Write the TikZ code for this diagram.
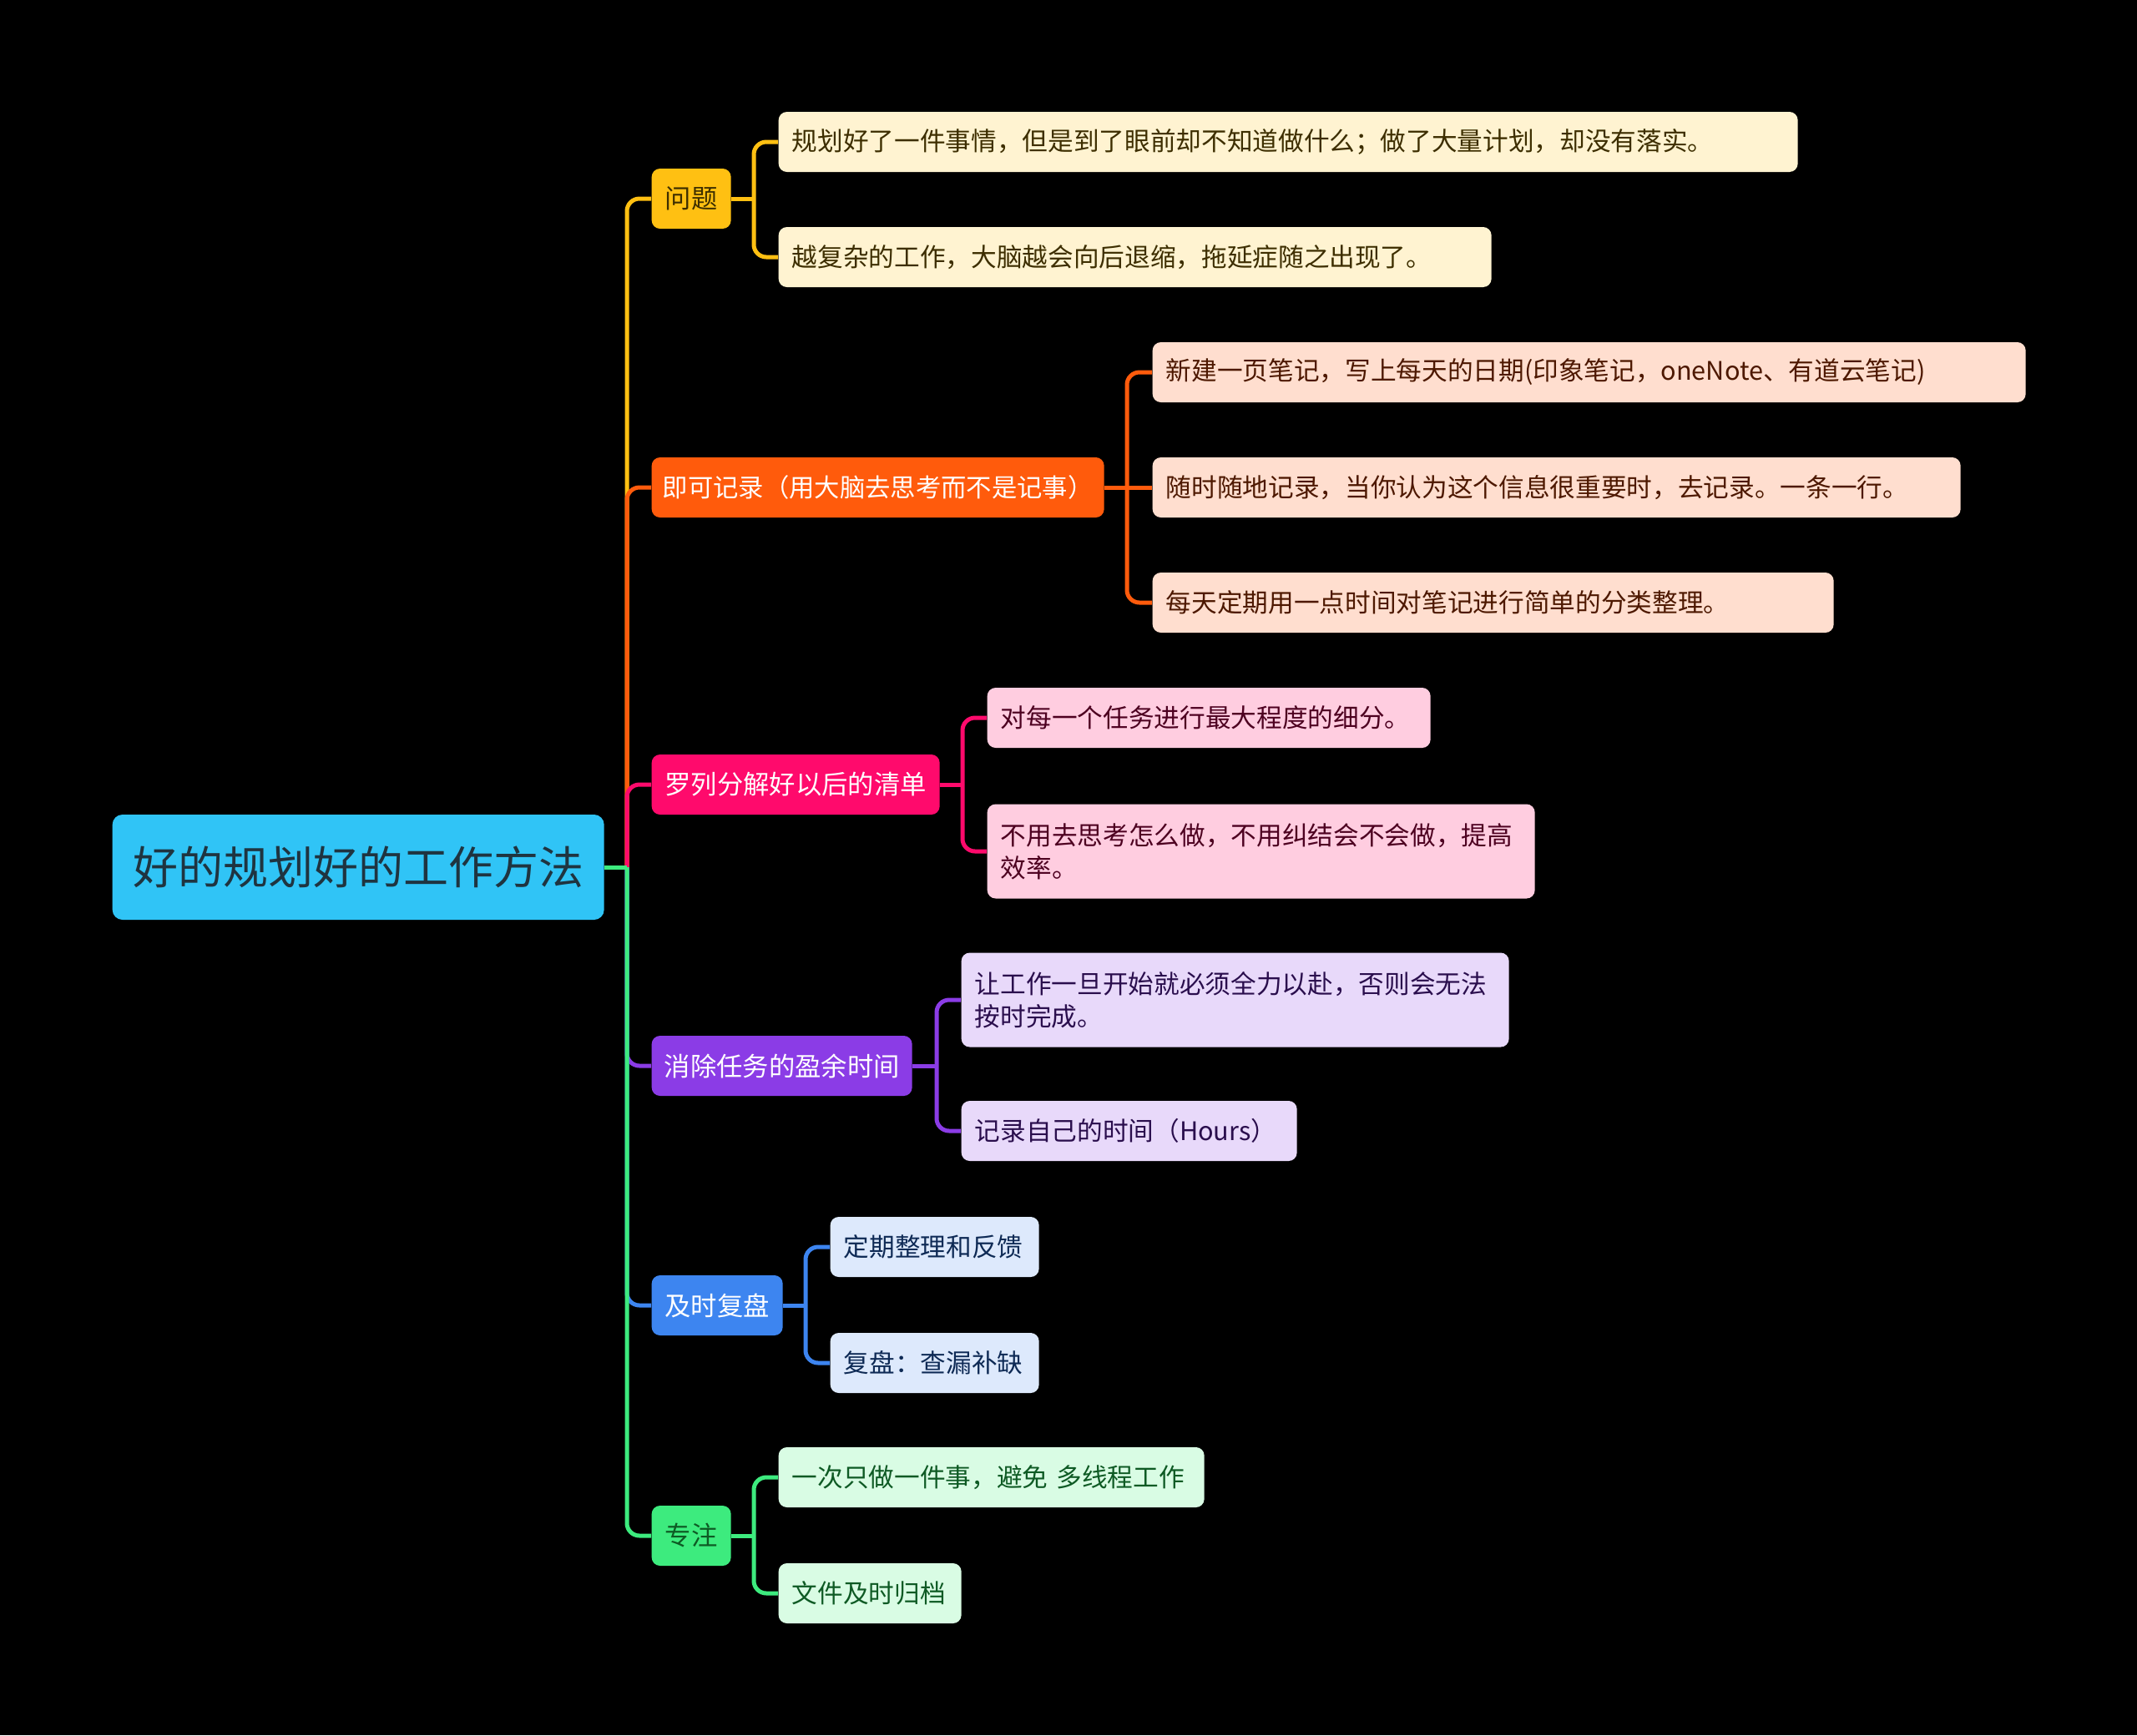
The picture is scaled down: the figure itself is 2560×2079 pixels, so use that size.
\documentclass[tikz,border=0pt]{standalone}
\usepackage{fontspec}
\setmainfont{Noto Sans CJK SC}
\usepackage{tikz}

\definecolor{rootfill}{HTML}{30C4F6}
\definecolor{roottext}{HTML}{1F3440}
\definecolor{wtc}{HTML}{FFC012}
\definecolor{wtl}{HTML}{FFF3D1}
\definecolor{wtt}{HTML}{3D2E00}
\definecolor{jkc}{HTML}{FF5B0C}
\definecolor{jkl}{HTML}{FFDECF}
\definecolor{jkt}{HTML}{4D1800}
\definecolor{llc}{HTML}{FF0A6C}
\definecolor{lll}{HTML}{FFCDE0}
\definecolor{llt}{HTML}{4D0020}
\definecolor{xcc}{HTML}{8B3CE6}
\definecolor{xcl}{HTML}{E8D9FA}
\definecolor{xct}{HTML}{2A0E4D}
\definecolor{fpc}{HTML}{3D85F0}
\definecolor{fpl}{HTML}{DDE9FC}
\definecolor{fpt}{HTML}{0E2A55}
\definecolor{zzc}{HTML}{3DEB7E}
\definecolor{zzl}{HTML}{D9FCE4}
\definecolor{zzt}{HTML}{0E5A24}

\begin{document}
\begin{tikzpicture}[x=0.3pt, y=-0.3pt,
    rootbox/.style={fill=rootfill, text=roottext, rounded corners=3.6pt, anchor=west,
        minimum width=176.7pt, minimum height=37.8pt, inner sep=0pt,
        font=\fontsize{16.2pt}{19pt}\selectfont},
    topic/.style={rounded corners=3pt, anchor=west, minimum height=21.6pt, inner xsep=4pt,
        inner ysep=0pt, align=center, font=\fontsize{9.4pt}{11.8pt}\selectfont},
    leaf/.style={rounded corners=3pt, anchor=west, minimum height=21.6pt, inner xsep=4.8pt,
        inner ysep=0pt, align=left, text width=#1, font=\fontsize{9.2pt}{11.8pt}\selectfont},
    link/.style={line width=1.5pt, rounded corners=4.5pt}]

\useasboundingbox (0,0) rectangle (2560,2079);
\fill[black] (0,0) rectangle (2560,2079);

% root
\node[rootbox] (root) at (134,1039) {好的规划好的工作方法};

% main topics
\node[topic, fill=wtc, text=wtt, minimum width=28.5pt] (wt) at (780,238) {问题};
\node[topic, fill=jkc, text=white, minimum width=162.6pt, inner xsep=2pt,
    font=\fontsize{9.1pt}{11.8pt}\selectfont] (jk) at (780,584) {即可记录（用大脑去思考而不是记事）};
\node[topic, fill=llc, text=white, minimum width=103.5pt] (ll) at (780,940) {罗列分解好以后的清单};
\node[topic, fill=xcc, text=white, minimum width=93.6pt] (xc) at (780,1277) {消除任务的盈余时间};
\node[topic, fill=fpc, text=white, minimum width=47.1pt] (fp) at (780,1564) {及时复盘};
\node[topic, fill=zzc, text=zzt, minimum width=28.5pt] (zz) at (780,1840) {专注};

% leaves
\node[leaf=356.7pt, fill=wtl, text=wtt] (wt1) at (932,170) {规划好了一件事情，但是到了眼前却不知道做什么；做了大量计划，却没有落实。};
\node[leaf=246.6pt, fill=wtl, text=wtt] (wt2) at (932,308) {越复杂的工作，大脑越会向后退缩，拖延症随之出现了。};
\node[leaf=304.2pt, fill=jkl, text=jkt] (jk1) at (1380,446) {新建一页笔记，写上每天的日期(印象笔记，oneNote、有道云笔记)};
\node[leaf=280.8pt, fill=jkl, text=jkt] (jk2) at (1380,584) {随时随地记录，当你认为这个信息很重要时，去记录。一条一行。};
\node[leaf=235.2pt, fill=jkl, text=jkt] (jk3) at (1380,722) {每天定期用一点时间对笔记进行简单的分类整理。};
\node[leaf=149.7pt, fill=lll, text=llt] (ll1) at (1182,860) {对每一个任务进行最大程度的细分。};
\node[leaf=187.2pt, fill=lll, text=llt, minimum height=33.9pt] (ll2) at (1182,1020) {不用去思考怎么做，不用纠结会不会做，提高\\效率。};
\node[leaf=187.2pt, fill=xcl, text=xct, minimum height=33.9pt] (xc1) at (1151,1198) {让工作一旦开始就必须全力以赴，否则会无法\\按时完成。};
\node[leaf=111pt, fill=xcl, text=xct] (xc2) at (1151,1355) {记录自己的时间（Hours）};
\node[leaf=65.4pt, fill=fpl, text=fpt] (fp1) at (994,1494) {定期整理和反馈};
\node[leaf=65.4pt, fill=fpl, text=fpt] (fp2) at (994,1633) {复盘：查漏补缺};
\node[leaf=143.4pt, fill=zzl, text=zzt] (zz1) at (932,1770) {一次只做一件事，避免 多线程工作};
\node[leaf=56.1pt, fill=zzl, text=zzt] (zz2) at (932,1909) {文件及时归档};

% trunk
\coordinate (hub) at (751,1039);
\draw[link, wtc] (hub) |- (wt.west);
\draw[link, jkc] (hub) |- (jk.west);
\draw[link, llc] (hub) |- (ll.west);
\draw[link, xcc] (hub) |- (xc.west);
\draw[link, fpc] (hub) |- (fp.west);
\draw[link, zzc] (hub) |- (zz.west);
\draw[link, zzc] (root.east) -- (hub);

% branches
\coordinate (wt-h) at (903,238);
\draw[link, wtc] (wt.east) -- (wt-h);
\draw[link, wtc] (wt-h) |- (wt1.west);
\draw[link, wtc] (wt-h) |- (wt2.west);

\coordinate (jk-h) at (1350,584);
\draw[link, jkc] (jk.east) -- (jk-h);
\draw[link, jkc] (jk-h) |- (jk1.west);
\draw[link, jkc] (jk-h) -- (jk2.west);
\draw[link, jkc] (jk-h) |- (jk3.west);

\coordinate (ll-h) at (1153,940);
\draw[link, llc] (ll.east) -- (ll-h);
\draw[link, llc] (ll-h) |- (ll1.west);
\draw[link, llc] (ll-h) |- (ll2.west);

\coordinate (xc-h) at (1122,1277);
\draw[link, xcc] (xc.east) -- (xc-h);
\draw[link, xcc] (xc-h) |- (xc1.west);
\draw[link, xcc] (xc-h) |- (xc2.west);

\coordinate (fp-h) at (965,1564);
\draw[link, fpc] (fp.east) -- (fp-h);
\draw[link, fpc] (fp-h) |- (fp1.west);
\draw[link, fpc] (fp-h) |- (fp2.west);

\coordinate (zz-h) at (903,1840);
\draw[link, zzc] (zz.east) -- (zz-h);
\draw[link, zzc] (zz-h) |- (zz1.west);
\draw[link, zzc] (zz-h) |- (zz2.west);
\end{tikzpicture}
\end{document}
